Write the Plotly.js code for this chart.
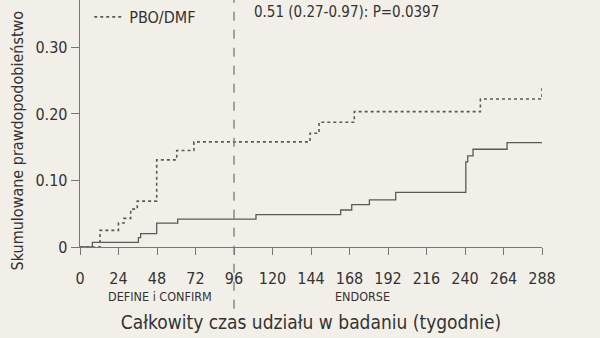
<!DOCTYPE html>
<html><head><meta charset="utf-8">
<script src="https://cdn.plot.ly/plotly-3.0.1.min.js"></script>
<style>html,body{margin:0;padding:0;background:#f2efe9;}</style>
</head><body>
<div id="chart" style="width:600px;height:338px;"></div>
<script>
const pboWeeks = [0, 12.5, 24, 27.4, 31.6, 35.7, 47.8, 60.3, 71, 143.4, 149, 171, 249.6, 288, 288];
const pboValues = [0, 0.025, 0.036, 0.043, 0.057, 0.069, 0.131, 0.145, 0.158, 0.171, 0.1875, 0.2035, 0.2226, 0.2226, 0.24];
const dmfWeeks = [0, 7.7, 36.4, 37.8, 47.8, 60.9, 109.7, 162.5, 169.4, 180.4, 196.8, 240.5, 241.7, 245, 266.2, 288];
const dmfValues = [0, 0.007, 0.014, 0.020, 0.036, 0.042, 0.0486, 0.0556, 0.0636, 0.071, 0.082, 0.128, 0.137, 0.147, 0.157, 0.157];
const xTicks = [0, 24, 48, 72, 96, 120, 144, 168, 192, 216, 240, 264, 288];
const yTicks = [0, 0.10, 0.20, 0.30];
const yTickLabels = ["0", "0.10", "0.20", "0.30"];
const phaseLabels = ["DEFINE i CONFIRM", "ENDORSE"];
const phaseCenters = [50, 176];
const hrText = "0.51 (0.27-0.97): P=0.0397";
const yTitle = "Skumulowane prawdopodobieństwo";
const xTitle = "Całkowity czas udziału w badaniu (tygodnie)";

const FONT = "Liberation Sans Narrow, DejaVu Sans Condensed, Arial Narrow, sans-serif";
const TXT = "#333";
const LINE = "#5a5a5a";

const traces = [
  {x: dmfWeeks, y: dmfValues, mode: "lines", line: {shape: "hv", color: LINE, width: 1.3}, name: "DMF/DMF", showlegend: false},
  {x: pboWeeks, y: pboValues, mode: "lines", line: {shape: "hv", color: LINE, width: 1.6, dash: "dot"}, name: "PBO/DMF", showlegend: true}
];

const layout = {
  width: 600, height: 338,
  paper_bgcolor: "#f2efe9", plot_bgcolor: "#f2efe9",
  margin: {l: 80, r: 58, t: 0, b: 91},
  font: {family: FONT, color: TXT, size: 14},
  showlegend: true,
  legend: {x: 0.02, y: 1.0, xanchor: "left", yanchor: "top", bgcolor: "rgba(0,0,0,0)",
           font: {family: FONT, size: 16, color: TXT}},
  xaxis: {range: [0, 288], tickvals: xTicks, ticks: "outside", ticklen: 7, tickcolor: "#777",
          ticklabelstandoff: 9,
          showline: true, linecolor: "#777", linewidth: 1.3, showgrid: false, zeroline: false,
          tickfont: {family: FONT, size: 16, color: TXT},
          title: {text: xTitle, font: {family: FONT, size: 19, color: TXT}, standoff: 29}},
  yaxis: {range: [0, 0.3714], tickvals: yTicks, ticktext: yTickLabels, ticks: "outside", ticklen: 8, tickcolor: "#777",
          showline: true, linecolor: "#777", linewidth: 1.3, showgrid: false, zeroline: false,
          tickfont: {family: FONT, size: 16, color: TXT}},
  shapes: [
    {type: "line", xref: "x", yref: "paper", x0: 96, x1: 96, y0: -0.25, y1: 1,
     line: {color: "#777", width: 1.3, dash: "dash"}}
  ],
  annotations: [
    {xref: "x", yref: "paper", x: phaseCenters[0], y: -0.2, yanchor: "middle", text: phaseLabels[0], showarrow: false, font: {family: FONT, size: 12.5, color: TXT}},
    {xref: "x", yref: "paper", x: phaseCenters[1], y: -0.2, yanchor: "middle", text: phaseLabels[1], showarrow: false, font: {family: FONT, size: 12.5, color: TXT}},
    {xref: "x", yref: "paper", x: 107, y: 0.95, xanchor: "left", yanchor: "middle", text: hrText, showarrow: false, font: {family: FONT, size: 15, color: TXT}},
    {xref: "paper", yref: "paper", x: -0.135, y: 0.43, xanchor: "center", yanchor: "middle", textangle: -90, text: yTitle, showarrow: false, font: {family: FONT, size: 16, color: TXT}}
  ]
};
Plotly.newPlot("chart", traces, layout, {displayModeBar: false, staticPlot: true});
</script>
</body></html>
